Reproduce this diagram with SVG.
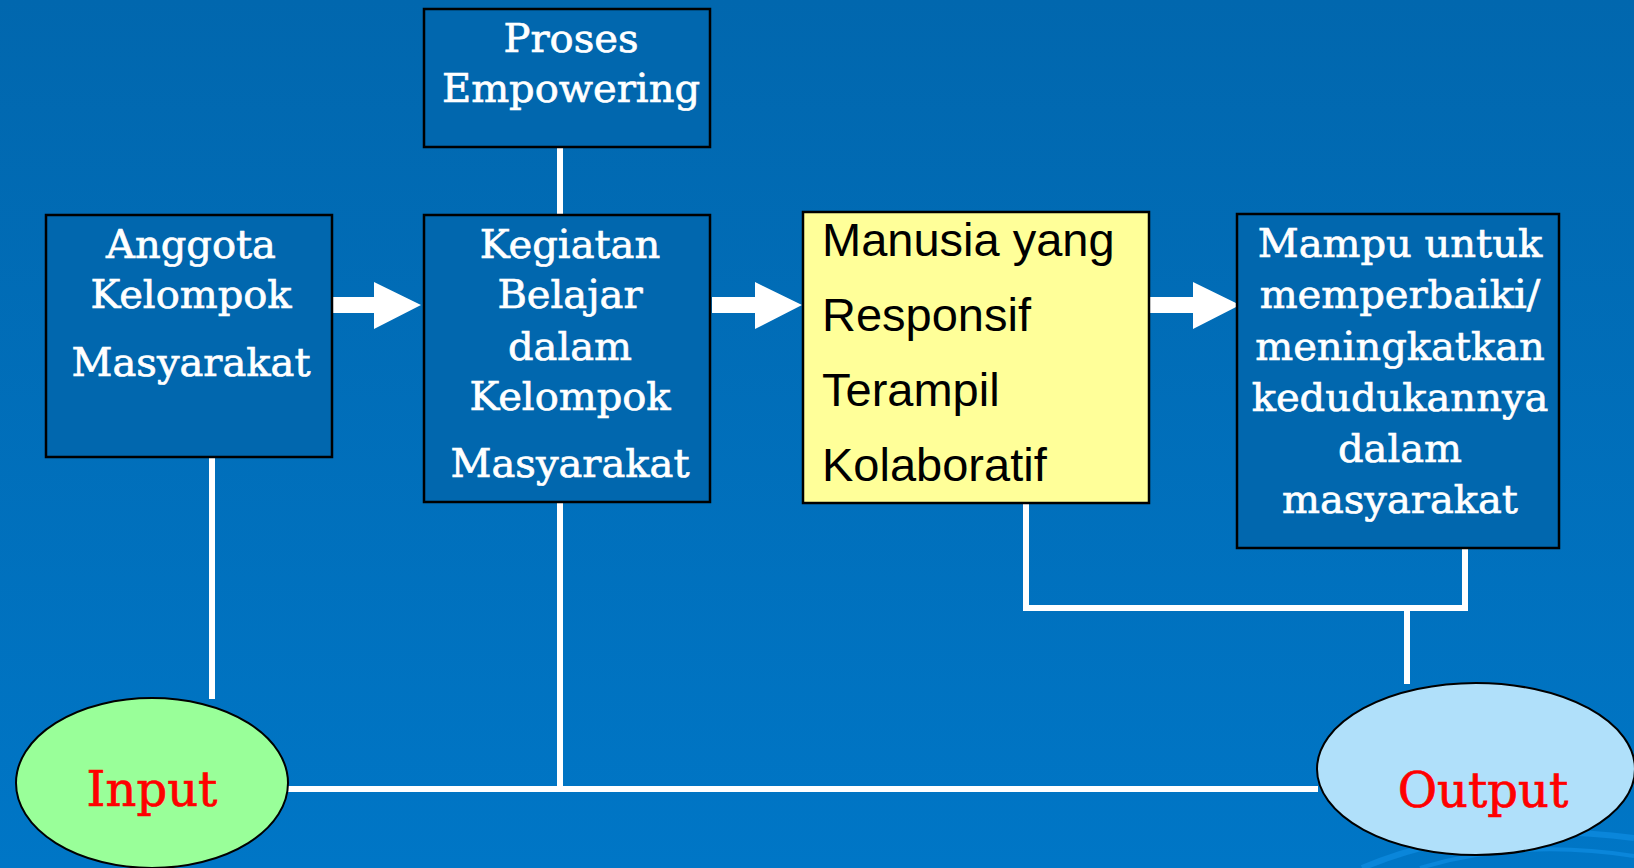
<svg xmlns="http://www.w3.org/2000/svg" width="1634" height="868" viewBox="0 0 1634 868">
<defs>
<linearGradient id="bg" x1="0" y1="0" x2="0" y2="1">
<stop offset="0" stop-color="#0167ae"/>
<stop offset="1" stop-color="#0076c6"/>
</linearGradient>
<style>
.box{fill:#0167ae;stroke:#000;stroke-width:2.5}
.yel{fill:#ffff99;stroke:#000;stroke-width:2.5}
.st{font-family:"DejaVu Serif","Liberation Serif",serif;font-size:40px;fill:#fff;stroke:#fff;stroke-width:0.7;text-anchor:middle}
.ss{font-family:"Liberation Sans",Arial,sans-serif;font-size:47px;fill:#000}
.red{font-family:"DejaVu Serif","Liberation Serif",serif;font-size:48px;fill:#ff0000;stroke:#ff0000;stroke-width:0.7;text-anchor:middle}
.ln{stroke:#fff;stroke-width:6;fill:none}
.arr{fill:#fff}
</style>
</defs>
<rect x="0" y="0" width="1634" height="868" fill="url(#bg)"/>
<g id="decor" fill="none" stroke="#0a86da" stroke-width="6">
<path d="M1362 868 Q1480 818 1634 838"/>
<path d="M1420 868 Q1520 838 1634 856" stroke-width="4"/>
</g>
<g id="connectors">
<line class="ln" x1="560" y1="147" x2="560" y2="215"/>
<line class="ln" x1="212" y1="457" x2="212" y2="699"/>
<line class="ln" x1="560" y1="502" x2="560" y2="789"/>
<line class="ln" x1="286" y1="789" x2="1318" y2="789"/>
<polyline class="ln" points="1026,503 1026,608 1465,608 1465,548"/>
<line class="ln" x1="1407" y1="608" x2="1407" y2="684"/>
<polygon class="arr" points="331,297 374,297 374,282 421,305 374,329 374,313 331,313"/>
<polygon class="arr" points="712,297 755,297 755,282 802,305 755,329 755,313 712,313"/>
<polygon class="arr" points="1149,297 1193,297 1193,282 1240,305 1193,329 1193,313 1149,313"/>
</g>
<g id="proses">
<rect class="box" x="424" y="9" width="286" height="138"/>
<text class="st" x="571" y="52">Proses</text>
<text class="st" x="571" y="102">Empowering</text>
</g>
<g id="anggota">
<rect class="box" x="46" y="215" width="286" height="242"/>
<text class="st" x="191" y="258">Anggota</text>
<text class="st" x="191" y="308">Kelompok</text>
<text class="st" x="191" y="376">Masyarakat</text>
</g>
<g id="kegiatan">
<rect class="box" x="424" y="215" width="286" height="287"/>
<text class="st" x="570" y="258">Kegiatan</text>
<text class="st" x="570" y="308">Belajar</text>
<text class="st" x="570" y="360">dalam</text>
<text class="st" x="570" y="410">Kelompok</text>
<text class="st" x="570" y="477">Masyarakat</text>
</g>
<g id="manusia">
<rect class="yel" x="803" y="212" width="346" height="291"/>
<text class="ss" x="822" y="256">Manusia yang</text>
<text class="ss" x="822" y="331">Responsif</text>
<text class="ss" x="822" y="406">Terampil</text>
<text class="ss" x="822" y="481">Kolaboratif</text>
</g>
<g id="mampu">
<rect class="box" x="1237" y="214" width="322" height="334"/>
<text class="st" x="1400" y="257">Mampu untuk</text>
<text class="st" x="1400" y="308">memperbaiki/</text>
<text class="st" x="1400" y="360">meningkatkan</text>
<text class="st" x="1400" y="411">kedudukannya</text>
<text class="st" x="1400" y="462">dalam</text>
<text class="st" x="1400" y="513">masyarakat</text>
</g>
<g id="input">
<ellipse cx="152" cy="783" rx="136" ry="85" fill="#99ff99" stroke="#000" stroke-width="2"/>
<text class="red" x="152" y="806">Input</text>
</g>
<g id="output">
<ellipse cx="1476" cy="769" rx="159" ry="86" fill="#b0e0fa" stroke="#000" stroke-width="2"/>
<text class="red" x="1483" y="807">Output</text>
</g>
</svg>
